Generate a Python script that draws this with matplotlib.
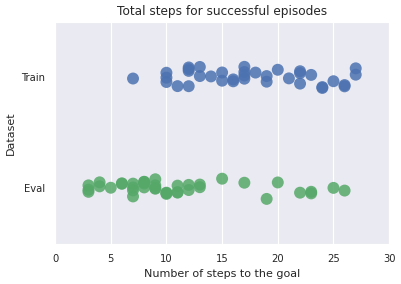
import numpy as np
import pandas as pd
import matplotlib
matplotlib.use('Agg')
import matplotlib.pyplot as plt
import seaborn as sns

# steps per successful episode
train_steps = [7, 10, 10, 10, 11, 12, 12, 12, 12, 13, 13, 14, 15, 15, 16, 16,
               17, 17, 17, 17, 18, 19, 19, 20, 21, 22, 22, 22, 23, 24, 24, 25,
               26, 26, 27, 27]
eval_steps = [3, 3, 3, 4, 4, 5, 6, 6, 7, 7, 7, 7, 8, 8, 8, 8, 9, 9, 9, 9,
              10, 10, 10, 11, 11, 11, 12, 12, 13, 13, 15, 17, 19, 20, 22,
              23, 23, 25, 26]
datasets = ['Train', 'Eval']
colors = ['#4C72B0', '#55A868']
x_ticks = [0, 5, 10, 15, 20, 25, 30]

df = pd.DataFrame({
    'steps': train_steps + eval_steps,
    'Dataset': ['Train'] * len(train_steps) + ['Eval'] * len(eval_steps),
})

sns.set_style('darkgrid')
plt.rcParams['font.family'] = ['DejaVu Sans']

fig = plt.figure(figsize=(4.02, 2.84), dpi=100)
ax = fig.add_axes([0.137, 0.141, 0.831, 0.782])

np.random.seed(3)
sns.stripplot(data=df, x='steps', y='Dataset', hue='Dataset', order=datasets,
              hue_order=datasets, palette=colors, jitter=True, size=8.6,
              alpha=0.85, linewidth=0, legend=False, ax=ax)

ax.set_xlim(0, 30)
ax.set_xticks(x_ticks)
ax.set_title('Total steps for successful episodes', fontsize=8.7, pad=5)
ax.set_xlabel('Number of steps to the goal', fontsize=8)
ax.set_ylabel('Dataset', fontsize=8)
ax.tick_params(labelsize=7.2)

fig.savefig('out.png', dpi=100)
